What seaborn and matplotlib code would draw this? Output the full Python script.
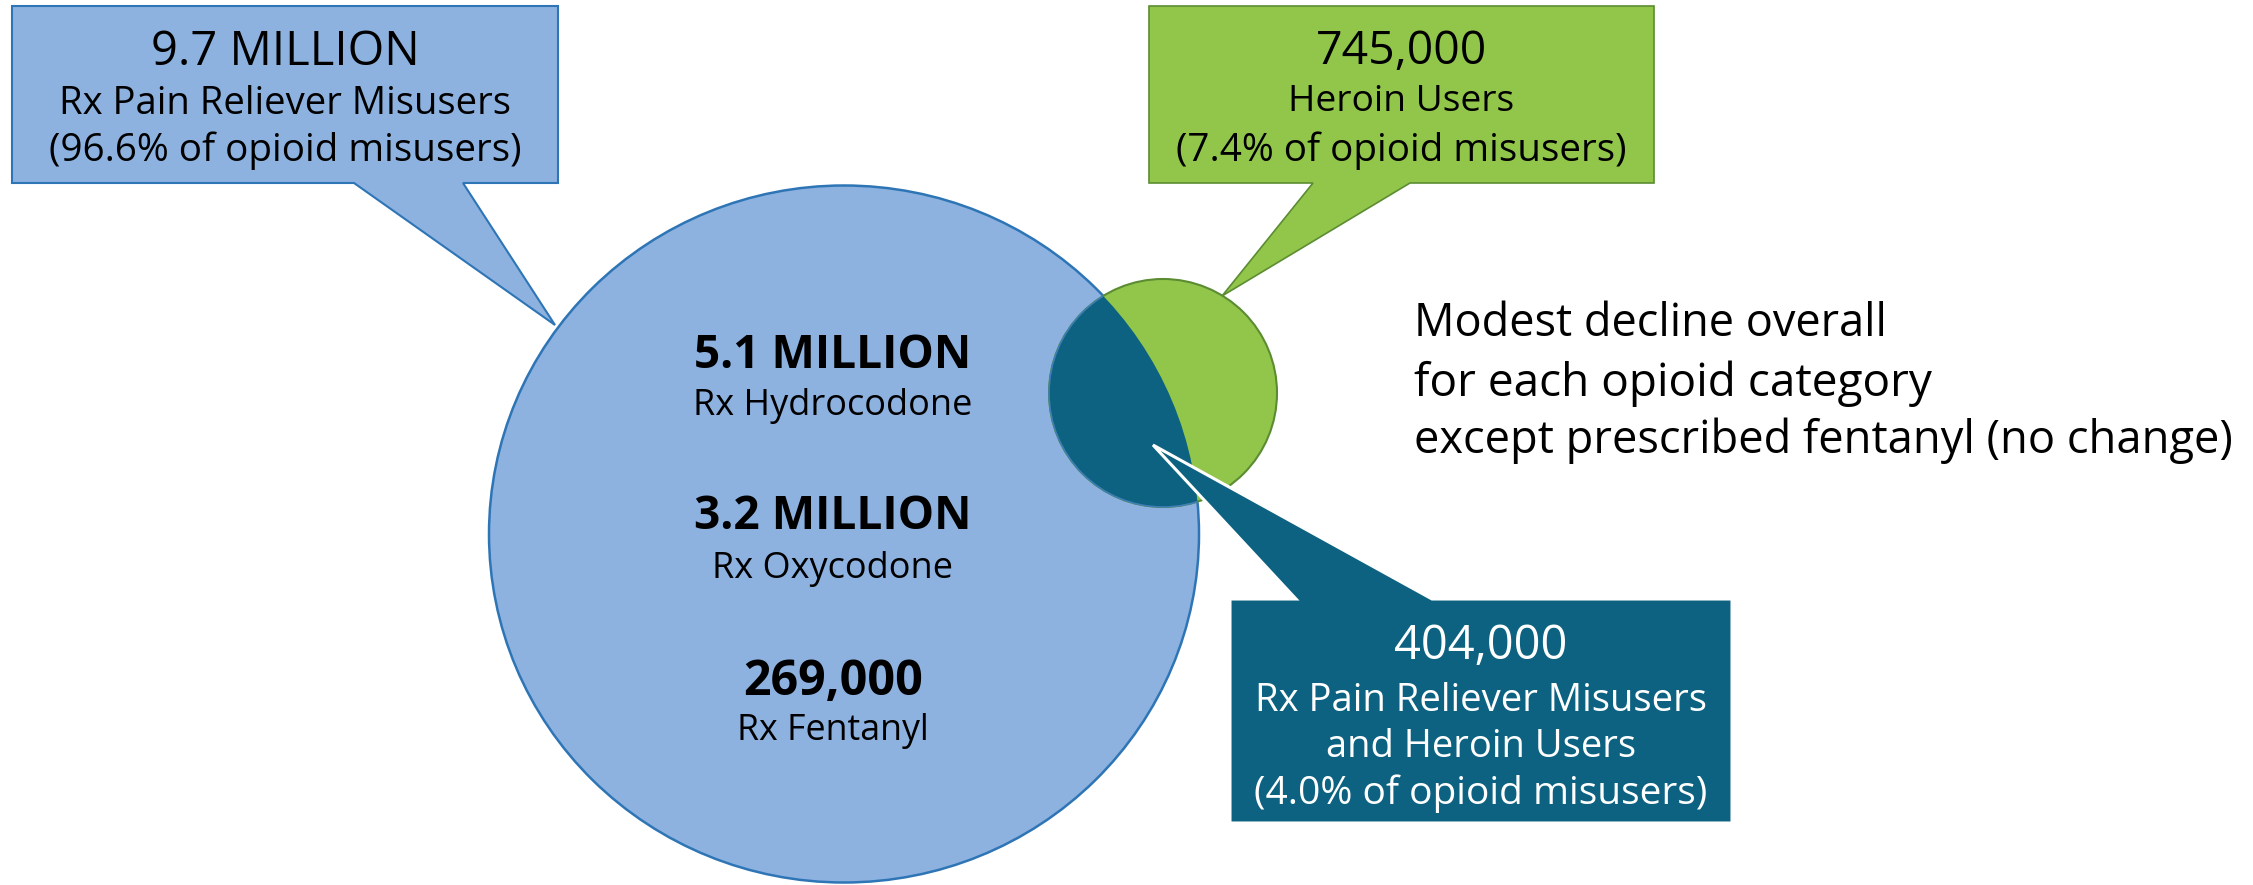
import matplotlib
matplotlib.use("Agg")
import matplotlib.pyplot as plt
import seaborn as sns
from matplotlib.patches import Ellipse, Circle, Polygon

# ---------------- data ----------------
callout_values = ["9.7 MILLION", "745,000", "404,000"]
callout_labels = [
    ["Rx Pain Reliever Misusers", "(96.6% of opioid misusers)"],
    ["Heroin Users", "(7.4% of opioid misusers)"],
    ["Rx Pain Reliever Misusers", "and Heroin Users", "(4.0% of opioid misusers)"],
]
circle_values = ["5.1 MILLION", "3.2 MILLION", "269,000"]
circle_labels = ["Rx Hydrocodone", "Rx Oxycodone", "Rx Fentanyl"]
note_lines = ["Modest decline overall",
              "for each opioid category",
              "except prescribed fentanyl (no change)"]

# ---------------- style ----------------
sns.set_theme(style="white")
plt.rcParams['font.family'] = ['Open Sans', 'DejaVu Sans']

LIGHT = "#8DB2E0"
LIGHT_EDGE = "#2E75B6"
GREEN = "#92C64A"
GREEN_EDGE = "#5B8C32"
DARK = "#0C6280"

W, H = 2253, 885
fig = plt.figure(figsize=(W / 100, H / 100), dpi=100)
ax = fig.add_axes([0, 0, 1, 1])
ax.set_xlim(0, W)
ax.set_ylim(H, 0)
ax.axis('off')
renderer = fig.canvas.get_renderer()


def fit_text(x, y_c, s, width, ha='center', weight='normal', color='black'):
    t = ax.text(x, y_c, s, ha=ha, va='baseline', fontsize=20,
                fontweight=weight, color=color, zorder=10)
    w = t.get_window_extent(renderer).width
    fs = 20 * width / w
    t.set_fontsize(fs)
    cap = 0.714 * fs * 100 / 72
    t.set_y(y_c + cap / 2)
    return t


# ---------------- circles ----------------
big = Ellipse((844, 534), 710, 697, facecolor=LIGHT, edgecolor=LIGHT_EDGE, lw=1.8, zorder=1)
ax.add_patch(big)
green = Circle((1163, 393), 114, facecolor=GREEN, edgecolor=GREEN_EDGE, lw=1.5, zorder=2)
ax.add_patch(green)
inter = Circle((1163, 393), 114, facecolor=DARK, edgecolor="#3F7FB5", lw=1.2, zorder=3)
ax.add_patch(inter)
inter.set_clip_path(big)

# ---------------- callouts ----------------
blue_poly = [(12, 6), (558, 6), (558, 183), (463, 183), (555, 325), (354, 183), (12, 183)]
ax.add_patch(Polygon(blue_poly, closed=True, facecolor=LIGHT, edgecolor=LIGHT_EDGE,
                     lw=1.5, joinstyle='miter', zorder=4))
green_poly = [(1149, 6), (1654, 6), (1654, 183), (1410, 183), (1222, 296), (1313, 183), (1149, 183)]
ax.add_patch(Polygon(green_poly, closed=True, facecolor=GREEN, edgecolor=GREEN_EDGE,
                     lw=1.2, joinstyle='miter', zorder=4))
dark_poly = [(1230, 599), (1296, 599), (1153, 445), (1432, 599), (1732, 599), (1732, 823), (1230, 823)]
ax.add_patch(Polygon(dark_poly, closed=True, facecolor=DARK, edgecolor='white',
                     lw=2.2, joinstyle='miter', zorder=5))

# ---------------- callout text ----------------
fit_text(285, 48, callout_values[0], 269)
fit_text(285, 100, callout_labels[0][0], 451)
fit_text(285, 147, callout_labels[0][1], 472)

fit_text(1401, 47, callout_values[1], 171)
fit_text(1401, 98, callout_labels[1][0], 226)
fit_text(1401, 147, callout_labels[1][1], 449)

fit_text(1481, 642, callout_values[2], 173, color='white')
fit_text(1481, 697, callout_labels[2][0], 452, color='white')
fit_text(1481, 743, callout_labels[2][1], 309, color='white')
fit_text(1481, 790, callout_labels[2][2], 452, color='white')

# ---------------- circle text ----------------
cx = 833
fit_text(cx, 352, circle_values[0], 278, weight='bold')
fit_text(cx, 402, circle_labels[0], 278)
fit_text(cx, 513, circle_values[1], 278, weight='bold')
fit_text(cx, 565, circle_labels[1], 240)
fit_text(cx, 678, circle_values[2], 180, weight='bold')
fit_text(cx, 727, circle_labels[2], 192)

# ---------------- note ----------------
fit_text(1414, 320, note_lines[0], 473, ha='left')
fit_text(1414, 380, note_lines[1], 517, ha='left')
fit_text(1414, 437, note_lines[2], 817, ha='left')

fig.savefig("out.png", dpi=100, facecolor='white')
